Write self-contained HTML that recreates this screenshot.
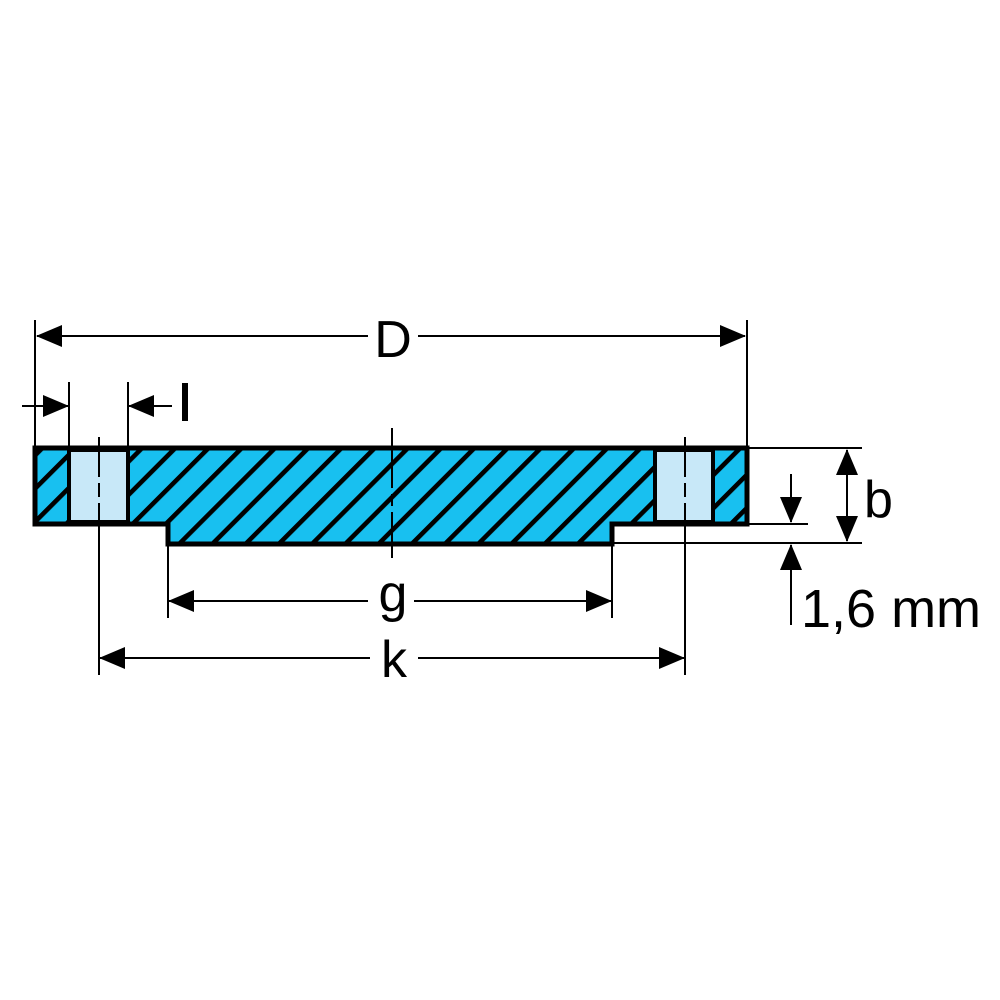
<!DOCTYPE html>
<html><head><meta charset="utf-8"><style>html,body{margin:0;padding:0;background:#fff}svg{display:block}</style></head>
<body>
<svg width="1000" height="1000" viewBox="0 0 1000 1000" xmlns="http://www.w3.org/2000/svg" font-family="Liberation Sans, Arial, sans-serif">
<defs>
<pattern id="h" patternUnits="userSpaceOnUse" width="23.5" height="23.5" patternTransform="rotate(-45)">
<rect width="23.5" height="23.5" fill="#18c0f0"/>
<rect x="0" y="15.5" width="23.5" height="4.6" fill="#000"/>
</pattern>
<marker id="a" markerWidth="26" markerHeight="22" refX="25" refY="11" orient="auto" markerUnits="userSpaceOnUse">
<path d="M0,0 L26,11 L0,22 Z" fill="#000"/>
</marker>
</defs>
<path d="M35,448 H747 V524 H612 V544 H168 V524 H35 Z" fill="url(#h)" stroke="#000" stroke-width="5"/>
<rect x="69" y="450" width="59" height="72" fill="#c8e8f8" stroke="#000" stroke-width="4"/>
<rect x="655" y="450" width="58" height="72" fill="#c8e8f8" stroke="#000" stroke-width="4"/>
<path d="M35,448 H747 V524 H612 V544 H168 V524 H35 Z" fill="none" stroke="#000" stroke-width="5"/>
<g stroke="#000" stroke-width="2" fill="none">
<line x1="99" y1="437" x2="99" y2="675" stroke-dasharray="40,6,14,6,200"/>
<line x1="392" y1="428" x2="392" y2="558" stroke-dasharray="60,6,12,6,100"/>
<line x1="685" y1="437" x2="685" y2="675" stroke-dasharray="40,6,14,6,200"/>
<line x1="35" y1="320" x2="35" y2="448"/>
<line x1="747" y1="320" x2="747" y2="448"/>
<line x1="368" y1="336" x2="37" y2="336" marker-end="url(#a)"/>
<line x1="418" y1="336" x2="745" y2="336" marker-end="url(#a)"/>
<line x1="69" y1="382" x2="69" y2="448"/>
<line x1="128" y1="382" x2="128" y2="448"/>
<line x1="22" y1="406" x2="68" y2="406" marker-end="url(#a)"/>
<line x1="172" y1="406" x2="129" y2="406" marker-end="url(#a)"/>
<line x1="168" y1="544" x2="168" y2="618"/>
<line x1="612" y1="544" x2="612" y2="618"/>
<line x1="368" y1="601" x2="169" y2="601" marker-end="url(#a)"/>
<line x1="414" y1="601" x2="611" y2="601" marker-end="url(#a)"/>
<line x1="370" y1="658" x2="100" y2="658" marker-end="url(#a)"/>
<line x1="418" y1="658" x2="684" y2="658" marker-end="url(#a)"/>
<line x1="747" y1="448" x2="862" y2="448"/>
<line x1="612" y1="543" x2="862" y2="543"/>
<line x1="847" y1="496" x2="847" y2="450" marker-end="url(#a)"/>
<line x1="847" y1="496" x2="847" y2="541" marker-end="url(#a)"/>
<line x1="747" y1="524" x2="808" y2="524"/>
<line x1="791" y1="474" x2="791" y2="522" marker-end="url(#a)"/>
<line x1="791" y1="625" x2="791" y2="545" marker-end="url(#a)"/>
</g>
<g fill="#000" font-size="52">
<text x="393" y="357" text-anchor="middle">D</text>
<rect x="182" y="383" width="6" height="38"/>
<text x="393" y="611" text-anchor="middle">g</text>
<text x="394" y="677" text-anchor="middle">k</text>
<text x="864" y="517">b</text>
<text x="801" y="627" font-size="54">1,6 mm</text>
</g>
</svg>
</body></html>
